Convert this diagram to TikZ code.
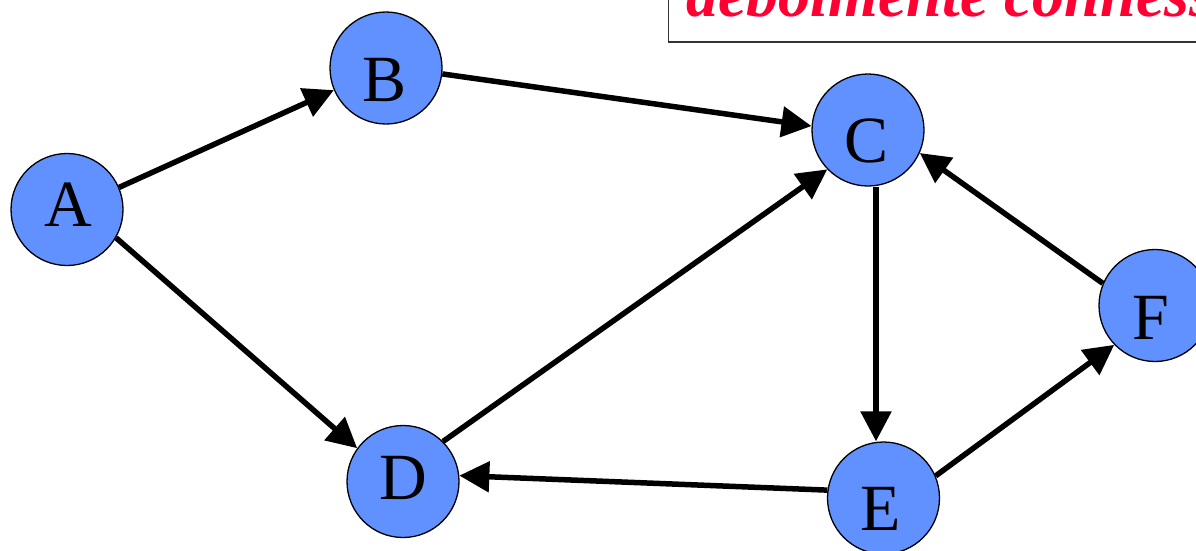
\documentclass[tikz,border=0pt]{standalone}
\usepackage{fontspec}
\setmainfont{Liberation Serif}
\usetikzlibrary{arrows.meta}
\definecolor{nodeblue}{HTML}{6190FF}
\definecolor{titlered}{HTML}{FF0033}
\definecolor{boxgrey}{HTML}{333333}
\begin{document}
\begin{tikzpicture}[x=1pt,y=-1pt,
  vertex/.style={circle,draw=black,line width=1.3pt,fill=nodeblue,minimum size=112pt,inner sep=0pt},
  vlabel/.style={inner sep=0pt,font=\fontsize{66}{66}\selectfont,text height=43.7pt,text depth=0pt},
  edge/.style={line width=5.5pt,-{Triangle[length=30pt,width=30pt]}}]
\useasboundingbox (0,0) rectangle (1196,550);
\clip (0,0) rectangle (1196,550);
% title box
\draw[boxgrey,line width=1.5pt] (668.5,-20) rectangle (1230,42);
\node[anchor=base west,inner sep=0pt,text=titlered,font=\fontsize{64}{64}\selectfont\bfseries\itshape] (title) at (686,16.5) {debolmente connesso};
% vertices
\node[vertex] (A) at (67,209.5) {};
\node[vertex] (B) at (386,68) {};
\node[vertex] (C) at (868,130) {};
\node[vertex] (D) at (403,481.5) {};
\node[vertex] (E) at (883.5,498) {};
\node[vertex] (F) at (1155,305.5) {};
% labels
\node[vlabel] (lA) at (68,205) {A};
\node[vlabel] (lB) at (384.5,79.5) {B};
\node[vlabel] (lC) at (866.5,141) {C};
\node[vlabel] (lD) at (403.5,478) {D};
\node[vlabel] (lE) at (880.5,509) {E};
\node[vlabel] (lF) at (1151,317.5) {F};
% edges
\draw[edge] (A.23) -- (B.203);
\draw[edge] (A.-30) -- (D.144);
\draw[edge] (B.-6) -- (C.176);
\draw[edge] (D.45) -- (C.224);
\draw[edge] ([xshift=8pt]C.south) -- ([xshift=-7.5pt]E.north);
\draw[edge] (E.172) -- (D.6);
\draw[edge] (E.23) -- (F.224);
\draw[edge] (F.157) -- (C.-24.4);
\end{tikzpicture}
\end{document}
